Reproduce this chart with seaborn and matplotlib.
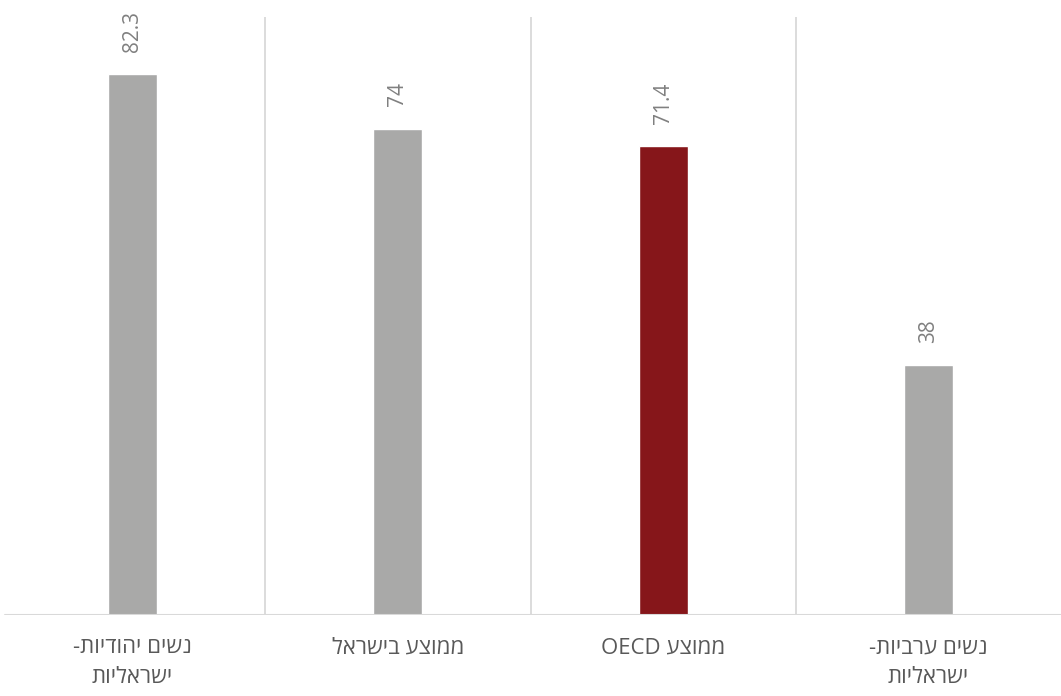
import re
import matplotlib
matplotlib.use("Agg")
import matplotlib.pyplot as plt
import seaborn as sns
import pandas as pd

categories = ["נשים יהודיות-\nישראליות", "ממוצע בישראל", "ממוצע OECD", "נשים ערביות-\nישראליות"]
values = [82.3, 74, 71.4, 38]
value_labels = ["82.3", "74", "71.4", "38"]
bar_colors = ["#a9a9a8", "#a9a9a8", "#86161a", "#a9a9a8"]


def visual(s):
    out = []
    for line in s.split("\n"):
        r = line[::-1]
        r = re.sub(r"[A-Za-z0-9.]+", lambda m: m.group(0)[::-1], r)
        out.append(r)
    return "\n".join(out)


sns.set_theme(style="white")
plt.rcParams["font.family"] = ["Open Sans", "DejaVu Sans"]

df = pd.DataFrame({"cat": categories, "val": values})

fig = plt.figure(figsize=(10.61, 6.96), dpi=100)
ax = fig.add_axes([0.0, 81 / 696, 1.0, (615 - 17) / 696])

sns.barplot(data=df, x="cat", y="val", hue="cat", palette=bar_colors,
            width=0.185, legend=False, ax=ax, saturation=1)

ax.set_xlim(-0.5, 3.5)
ax.set_ylim(0, 91)
for s in ax.spines.values():
    s.set_visible(False)
ax.axhline(0, xmin=5 / 1061, xmax=1.0, color="#d9d9d9", lw=1.5, zorder=3)
for xpos in [0.5, 1.5, 2.5]:
    ax.axvline(xpos, color="#d9d9d9", lw=1.3, zorder=0)

ax.set_yticks([])
ax.set_ylabel("")
ax.set_xlabel("")
ax.set_xticks(range(len(categories)))
ax.set_xticklabels([visual(c) for c in categories], fontsize=16, color="#595959",
                   linespacing=1.55)
ax.tick_params(axis="x", length=0, pad=16)

for i, (v, lab) in enumerate(zip(values, value_labels)):
    ax.annotate(lab, (i, v), xytext=(0, 16), textcoords="offset points",
                rotation=90, ha="center", va="bottom", fontsize=15, color="#808080")

fig.savefig("out.png", dpi=100)
